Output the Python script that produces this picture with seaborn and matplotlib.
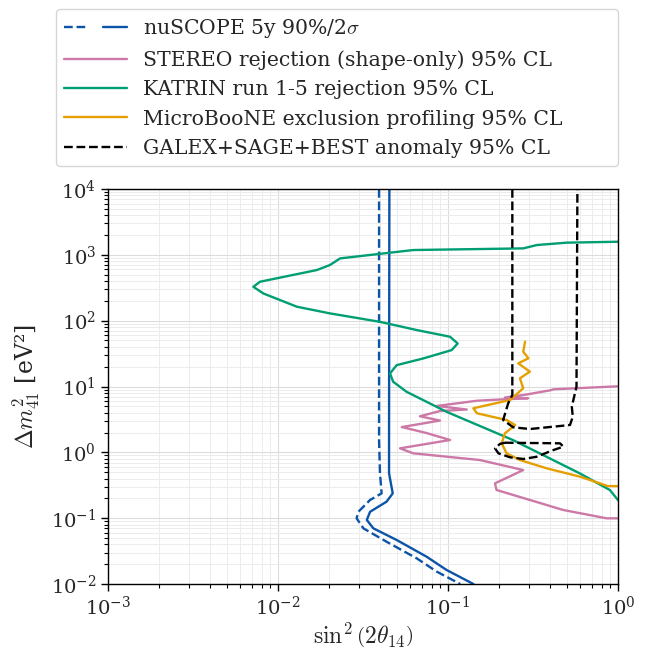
import numpy as np
import pandas as pd
import matplotlib
matplotlib.use("Agg")
import matplotlib.pyplot as plt
import seaborn as sns
from matplotlib.legend_handler import HandlerTuple

# ---------------- data ----------------
nuscope_solid_x = [0.0452, 0.0450, 0.0450, 0.0473, 0.0435, 0.0348, 0.0333, 0.0364,
                   0.0499, 0.0750, 0.0982, 0.141]
nuscope_solid_y = [1e4, 1.54, 0.48, 0.238, 0.178, 0.125, 0.094, 0.070,
                   0.0466, 0.0259, 0.0163, 0.01]

nuscope_dash_x = [0.0393, 0.0393, 0.0398, 0.0407, 0.0348, 0.0297, 0.0290, 0.0318,
                  0.0435, 0.0655, 0.0859, 0.118]
nuscope_dash_y = [1e4, 1.54, 0.48, 0.238, 0.189, 0.125, 0.0995, 0.070,
                  0.0439, 0.0245, 0.0154, 0.01]

stereo_x = [1.0, 0.416, 0.403, 0.290, 0.216, 0.296, 0.202, 0.148, 0.0859, 0.129,
            0.0897, 0.0684, 0.0897, 0.0535, 0.0750, 0.1028, 0.0522, 0.0625, 0.154,
            0.277, 0.189, 0.193, 0.303, 0.477, 0.857, 1.0]
stereo_y = [10.07, 9.06, 8.79, 7.56, 6.80, 6.64, 6.34, 6.08, 5.06, 4.47,
            4.24, 3.53, 3.04, 2.42, 1.96, 1.54, 1.15, 0.966, 0.764,
            0.538, 0.338, 0.268, 0.189, 0.133, 0.0995, 0.0995]

katrin_x = [1.0, 0.499, 0.333, 0.277, 0.0625, 0.0232, 0.0202, 0.0169, 0.00783,
            0.00716, 0.0082, 0.0129, 0.0202, 0.0398, 0.0655, 0.1028, 0.114, 0.105,
            0.0716, 0.0499, 0.0456, 0.0476, 0.0571, 0.0982, 0.242, 0.597, 0.897, 1.0]
katrin_y = [1581, 1531, 1409, 1253, 1183, 883, 700, 587, 390,
            327, 259, 163, 129, 96, 72, 57, 45, 35.7,
            26.7, 21.1, 15.8, 11.8, 8.3, 4.12, 1.53, 0.478, 0.267, 0.188]

microboone_x = [0.284, 0.277, 0.297, 0.259, 0.303, 0.265, 0.277, 0.232, 0.141,
                0.148, 0.221, 0.248, 0.216, 0.207, 0.221, 0.265, 0.381, 0.597,
                0.783, 0.87, 1.0]
microboone_y = [47.9, 33.8, 26.8, 22.5, 16.8, 13.3, 9.4, 6.24, 4.67,
                3.92, 3.10, 2.60, 1.94, 1.37, 0.966, 0.764, 0.571, 0.427,
                0.338, 0.307, 0.307]

galex_x = [0.239, 0.239, 0.226, 0.211, 0.242, 0.303, 0.522, 0.542, 0.535,
           0.558, 0.570, 0.577]
galex_y = [1e4, 7.43, 5.56, 3.10, 2.40, 2.26, 2.60, 3.47, 4.93,
           7.87, 9.93, 1e4]

galex_island_x = [0.216, 0.456, 0.477, 0.407, 0.333, 0.277, 0.232, 0.198, 0.189,
                  0.202, 0.216]
galex_island_y = [1.40, 1.37, 1.22, 1.06, 0.857, 0.792, 0.840, 0.966, 1.15,
                  1.34, 1.40]

labels = ["nuSCOPE 5y 90%/2$\\sigma$",
          "STEREO rejection (shape-only) 95% CL",
          "KATRIN run 1-5 rejection 95% CL",
          "MicroBooNE exclusion profiling 95% CL",
          "GALEX+SAGE+BEST anomaly 95% CL"]

# ---------------- style ----------------
sns.set_style("ticks")
plt.rcParams['font.family'] = ['DejaVu Serif']
plt.rcParams['mathtext.fontset'] = 'cm'

c_blue = "#0b54a8"
c_pink = "#cc79a7"
c_green = "#009e73"
c_orange = "#e69f00"
c_black = "black"
lw = 1.7

fig = plt.figure(figsize=(6.47, 6.50), dpi=100)
ax = fig.add_axes([108 / 647, 1 - 584 / 650, 510 / 647, 395 / 650])


def draw(x, y, color, ls="-"):
    df = pd.DataFrame({"x": x, "y": y})
    sns.lineplot(data=df, x="x", y="y", sort=False, estimator=None, ax=ax,
                 color=color, linewidth=lw, linestyle=ls)
    return ax.lines[-1]


h_dash = draw(nuscope_dash_x, nuscope_dash_y, c_blue, "--")
h_solid = draw(nuscope_solid_x, nuscope_solid_y, c_blue, "-")
h_stereo = draw(stereo_x, stereo_y, c_pink)
h_katrin = draw(katrin_x, katrin_y, c_green)
h_micro = draw(microboone_x, microboone_y, c_orange)
h_galex = draw(galex_x, galex_y, c_black, "--")
draw(galex_island_x, galex_island_y, c_black, "--")

ax.set_xscale("log")
ax.set_yscale("log")
ax.set_xlim(1e-3, 1.0)
ax.set_ylim(1e-2, 1e4)
ax.yaxis.set_major_locator(matplotlib.ticker.LogLocator(base=10, numticks=20))
ax.yaxis.set_minor_locator(matplotlib.ticker.LogLocator(base=10, subs=np.arange(2, 10), numticks=20))

ax.grid(True, which="major", color="#dcdcdc", linewidth=0.8)
ax.grid(True, which="minor", color="#ececec", linewidth=0.7)
ax.set_axisbelow(True)
for s in ax.spines.values():
    s.set_visible(True)
    s.set_color("black")
    s.set_linewidth(1.0)

ax.tick_params(axis="both", which="major", labelsize=14, length=5, width=1, color="black")
ax.tick_params(axis="both", which="minor", length=3, width=0.8, color="black")

ax.set_xlabel("$\\sin^2\\left(2\\theta_{14}\\right)$", fontsize=17, labelpad=1)
ax.set_ylabel("$\\Delta m_{41}^2$ [eV²]", fontsize=17, labelpad=6)

leg = fig.legend([(h_dash, h_solid), h_stereo, h_katrin, h_micro, h_galex], labels,
                 handler_map={tuple: HandlerTuple(ndivide=None, pad=0.75)},
                 loc="lower left",
                 bbox_to_anchor=(56 / 647, 1 - 166 / 650, 562 / 647, 158 / 650),
                 mode="expand", borderaxespad=0, fontsize=14.7,
                 handlelength=3.1, handletextpad=0.75, labelspacing=0.5,
                 frameon=True)

fig.savefig("out.png", dpi=100)
